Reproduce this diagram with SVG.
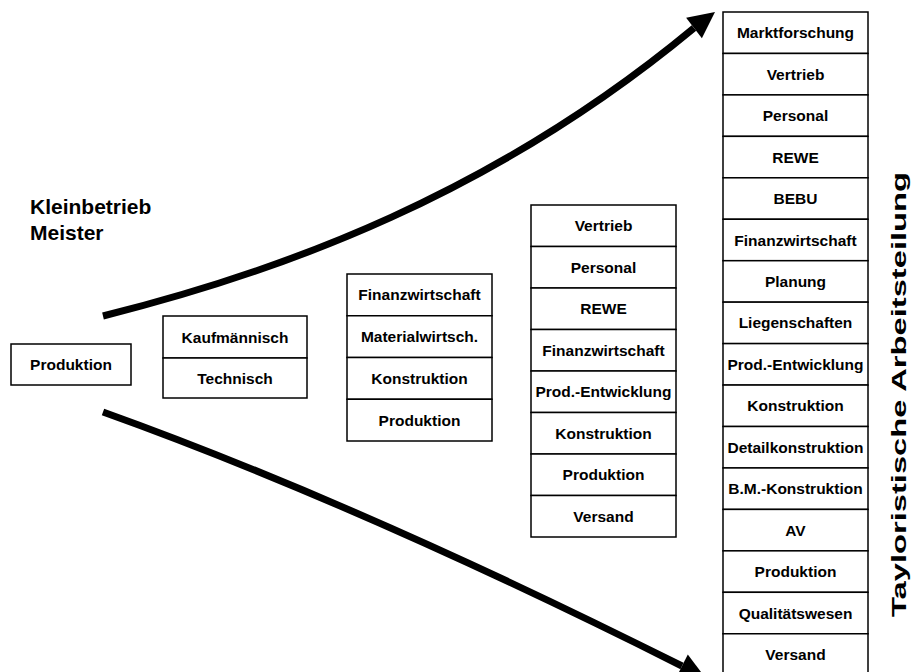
<svg xmlns="http://www.w3.org/2000/svg" width="918" height="672" viewBox="0 0 918 672">
<style>
.box{fill:#fff;stroke:#000;stroke-width:1.5}
.t{font-family:"Liberation Sans",Arial,sans-serif;font-weight:bold;font-size:15.5px;fill:#000;text-anchor:middle}
.lbl{font-family:"Liberation Sans",Arial,sans-serif;font-weight:bold;font-size:21px;fill:#000}
.arr{fill:none;stroke:#000;stroke-width:7}
</style>
<rect x="0" y="0" width="918" height="672" fill="#fff"/>
<g id="connectors">
<path class="arr" d="M103,316 C283,271 494,194 694,28"/>
<polygon points="715,12 701.9,38.3 686.1,17.7"/>
<path class="arr" d="M103,412 Q357,503 682,666"/>
<polygon points="705.2,677.6 687.8,654.4 676.2,677.6"/>
</g>
<g id="label-kleinbetrieb">
<text class="lbl" x="30" y="214">Kleinbetrieb</text>
<text class="lbl" x="30" y="240">Meister</text>
</g>
<g id="title">
<text class="lbl" transform="translate(906,394.5) rotate(-90)" text-anchor="middle" font-size="24" textLength="445" lengthAdjust="spacingAndGlyphs">Tayloristische Arbeitsteilung</text>
</g>
<g id="c1-produktion"><rect class="box" x="11" y="344" width="120" height="41"/><text class="t" x="71" y="370">Produktion</text></g>
<g id="c2-kaufmaennisch"><rect class="box" x="163" y="316" width="144" height="42"/><text class="t" x="235" y="342.5">Kaufmännisch</text></g>
<g id="c2-technisch"><rect class="box" x="163" y="358" width="144" height="40"/><text class="t" x="235" y="384">Technisch</text></g>
<g id="c3-finanzwirtschaft"><rect class="box" x="347" y="274" width="145" height="41.75"/><text class="t" x="419.5" y="300.4">Finanzwirtschaft</text></g>
<g id="c3-materialwirtsch"><rect class="box" x="347" y="315.75" width="145" height="41.75"/><text class="t" x="419.5" y="342.1">Materialwirtsch.</text></g>
<g id="c3-konstruktion"><rect class="box" x="347" y="357.5" width="145" height="41.75"/><text class="t" x="419.5" y="383.9">Konstruktion</text></g>
<g id="c3-produktion"><rect class="box" x="347" y="399.25" width="145" height="41.75"/><text class="t" x="419.5" y="425.6">Produktion</text></g>
<g id="c4-vertrieb"><rect class="box" x="531" y="205" width="145" height="41.5"/><text class="t" x="603.5" y="231.25">Vertrieb</text></g>
<g id="c4-personal"><rect class="box" x="531" y="246.5" width="145" height="41.5"/><text class="t" x="603.5" y="272.75">Personal</text></g>
<g id="c4-rewe"><rect class="box" x="531" y="288" width="145" height="41.5"/><text class="t" x="603.5" y="314.25">REWE</text></g>
<g id="c4-finanzwirtschaft"><rect class="box" x="531" y="329.5" width="145" height="41.5"/><text class="t" x="603.5" y="355.75">Finanzwirtschaft</text></g>
<g id="c4-prodentwicklung"><rect class="box" x="531" y="371" width="145" height="41.5"/><text class="t" x="603.5" y="397.25">Prod.-Entwicklung</text></g>
<g id="c4-konstruktion"><rect class="box" x="531" y="412.5" width="145" height="41.5"/><text class="t" x="603.5" y="438.75">Konstruktion</text></g>
<g id="c4-produktion"><rect class="box" x="531" y="454" width="145" height="41.5"/><text class="t" x="603.5" y="480.25">Produktion</text></g>
<g id="c4-versand"><rect class="box" x="531" y="495.5" width="145" height="41.5"/><text class="t" x="603.5" y="521.75">Versand</text></g>
<g id="c5-marktforschung"><rect class="box" x="723" y="12" width="145" height="41.45"/><text class="t" x="795.5" y="38.2">Marktforschung</text></g>
<g id="c5-vertrieb"><rect class="box" x="723" y="53.45" width="145" height="41.45"/><text class="t" x="795.5" y="79.7">Vertrieb</text></g>
<g id="c5-personal"><rect class="box" x="723" y="94.9" width="145" height="41.45"/><text class="t" x="795.5" y="121.1">Personal</text></g>
<g id="c5-rewe"><rect class="box" x="723" y="136.35" width="145" height="41.45"/><text class="t" x="795.5" y="162.6">REWE</text></g>
<g id="c5-bebu"><rect class="box" x="723" y="177.8" width="145" height="41.45"/><text class="t" x="795.5" y="204">BEBU</text></g>
<g id="c5-finanzwirtschaft"><rect class="box" x="723" y="219.25" width="145" height="41.45"/><text class="t" x="795.5" y="245.5">Finanzwirtschaft</text></g>
<g id="c5-planung"><rect class="box" x="723" y="260.7" width="145" height="41.45"/><text class="t" x="795.5" y="286.9">Planung</text></g>
<g id="c5-liegenschaften"><rect class="box" x="723" y="302.15" width="145" height="41.45"/><text class="t" x="795.5" y="328.4">Liegenschaften</text></g>
<g id="c5-prodentwicklung"><rect class="box" x="723" y="343.6" width="145" height="41.45"/><text class="t" x="795.5" y="369.8">Prod.-Entwicklung</text></g>
<g id="c5-konstruktion"><rect class="box" x="723" y="385.05" width="145" height="41.45"/><text class="t" x="795.5" y="411.3">Konstruktion</text></g>
<g id="c5-detailkonstruktion"><rect class="box" x="723" y="426.5" width="145" height="41.45"/><text class="t" x="795.5" y="452.7">Detailkonstruktion</text></g>
<g id="c5-bmkonstruktion"><rect class="box" x="723" y="467.95" width="145" height="41.45"/><text class="t" x="795.5" y="494.2">B.M.-Konstruktion</text></g>
<g id="c5-av"><rect class="box" x="723" y="509.4" width="145" height="41.45"/><text class="t" x="795.5" y="535.6">AV</text></g>
<g id="c5-produktion"><rect class="box" x="723" y="550.85" width="145" height="41.45"/><text class="t" x="795.5" y="577.1">Produktion</text></g>
<g id="c5-qualitaetswesen"><rect class="box" x="723" y="592.3" width="145" height="41.45"/><text class="t" x="795.5" y="618.7">Qualitätswesen</text></g>
<g id="c5-versand"><rect class="box" x="723" y="633.75" width="145" height="41.45"/><text class="t" x="795.5" y="660">Versand</text></g>
</svg>
